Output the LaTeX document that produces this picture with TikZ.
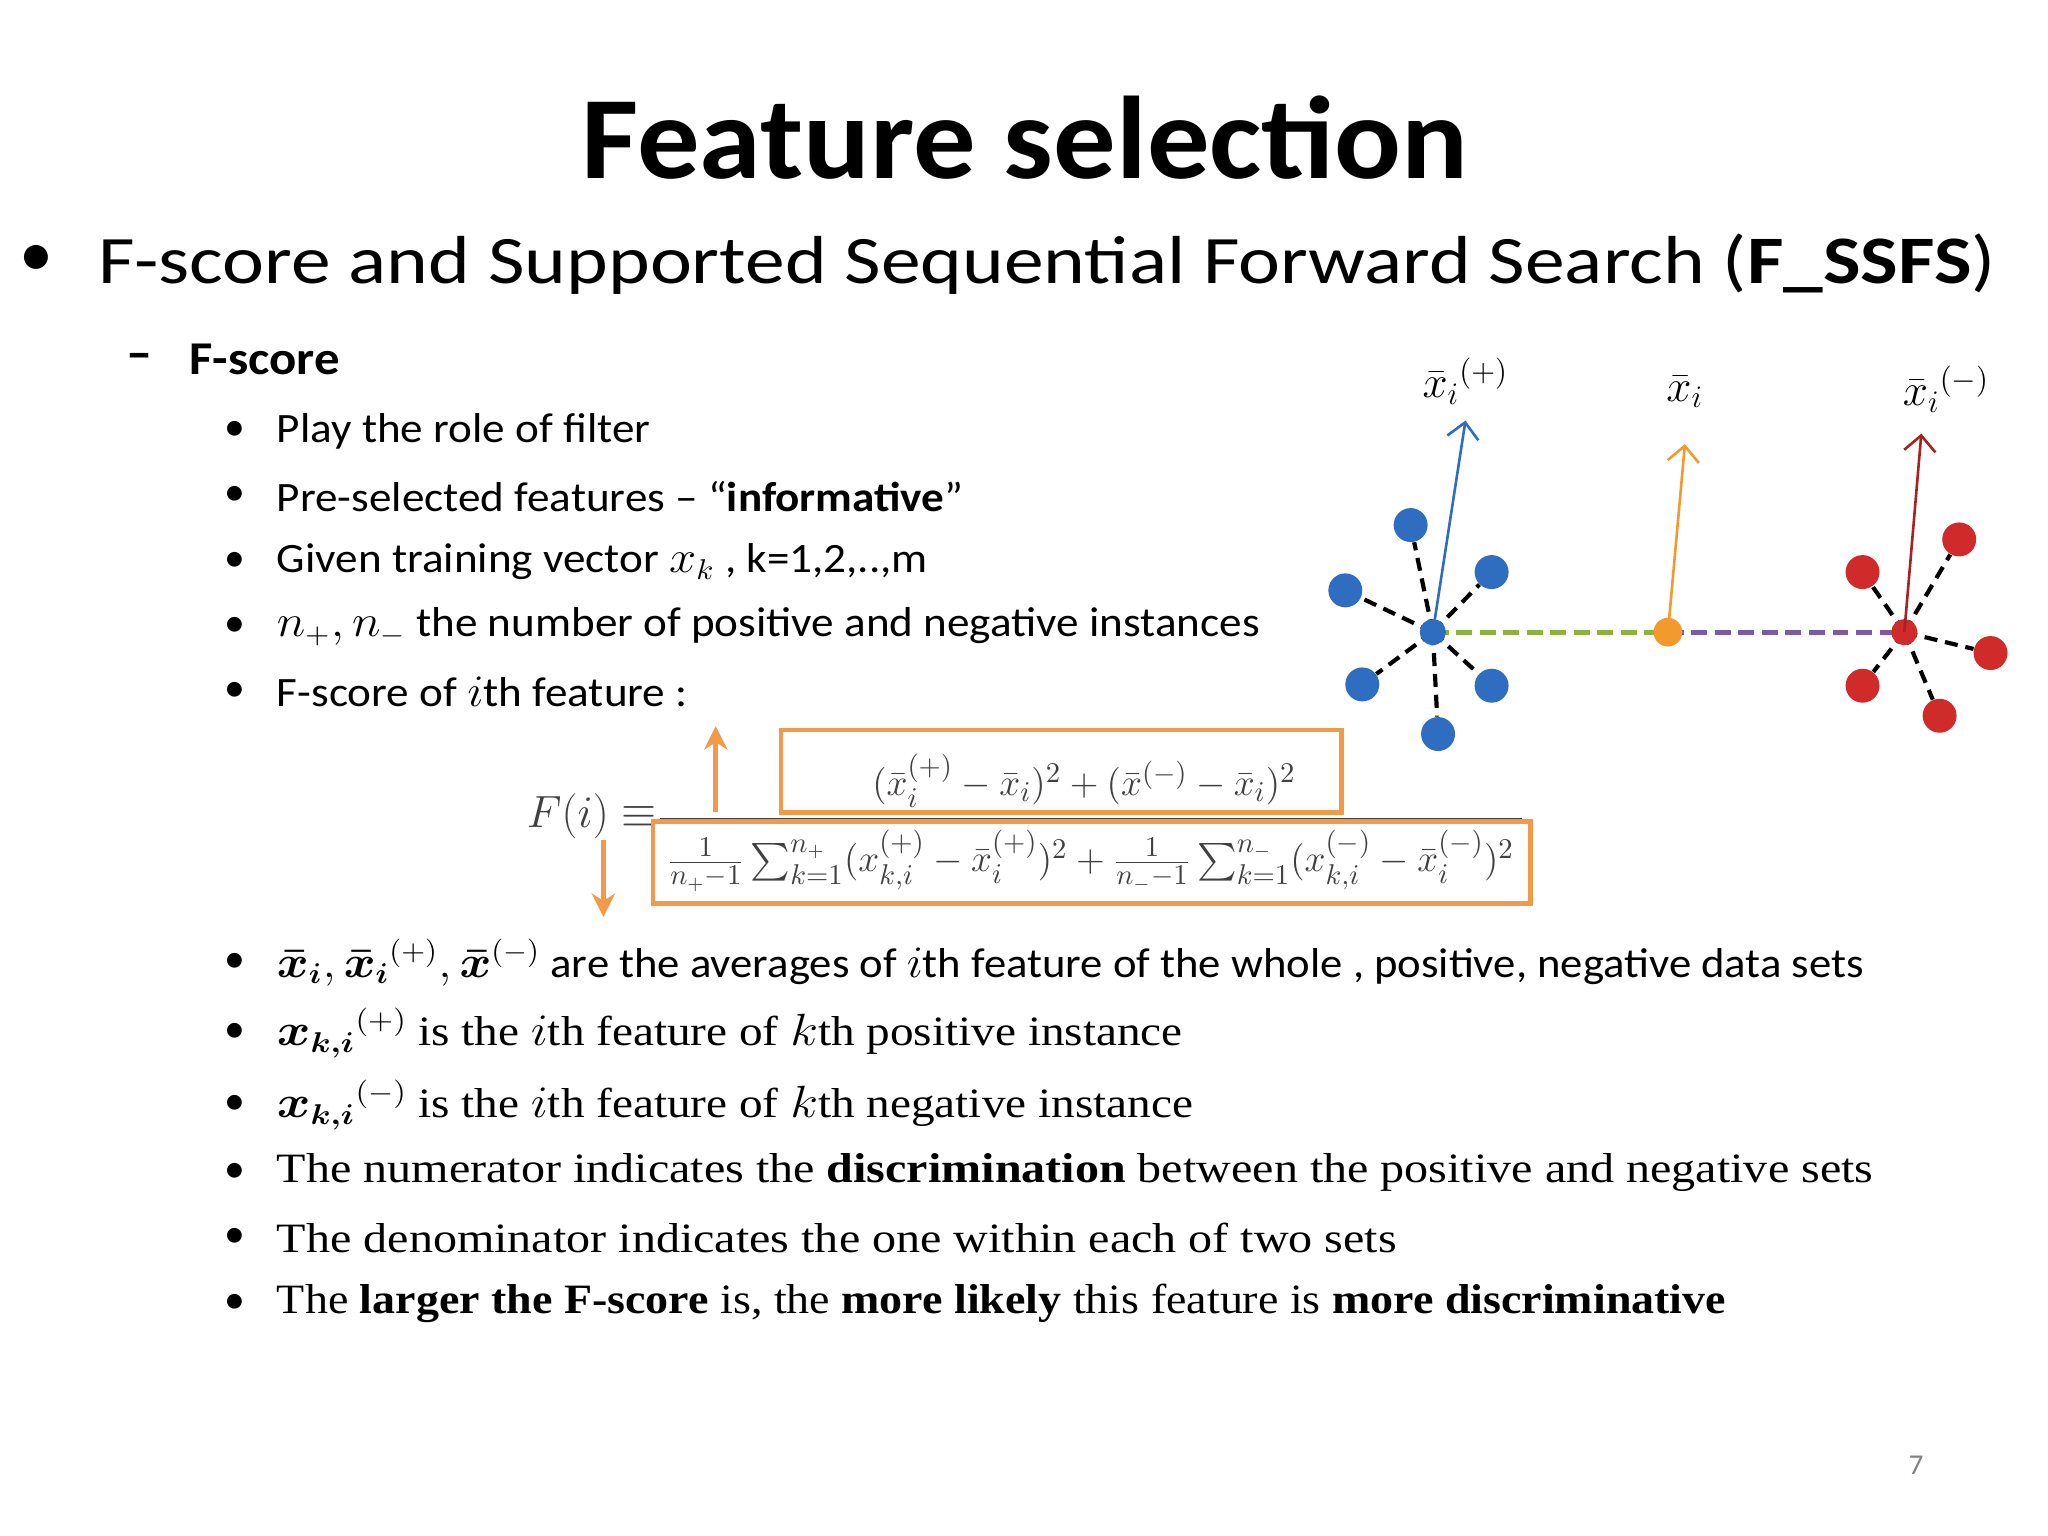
\documentclass[tikz,border=0pt]{standalone}
\usepackage{fontspec}
\usepackage{amsmath}
\usepackage{graphicx}
\setmainfont{Carlito}
\newfontfamily\serif{Liberation Serif}
\usetikzlibrary{arrows.meta}
\definecolor{bdot}{HTML}{2E6DBF}
\definecolor{rdot}{HTML}{D02A2A}
\definecolor{odot}{HTML}{F39A2E}
\definecolor{obox}{HTML}{F39A4A}
\definecolor{gline}{HTML}{8DB23E}
\definecolor{pline}{HTML}{7B5BA6}
\begin{document}
\begin{tikzpicture}[x=0.5pt,y=-0.5pt,
 sub/.style={anchor=west,font=\fontsize{16}{18}\selectfont},
 ser/.style={anchor=west,font=\serif\fontsize{16}{18}\selectfont},
 bul/.style={font=\fontsize{16}{18}\selectfont},
 dot/.style={circle,inner sep=0pt,minimum size=13pt},
 spoke/.style={dashed,line width=1.6pt,dash pattern=on 5pt off 3pt},
 ob/.style={draw=obox,line width=1.8pt}]
\useasboundingbox (0,0) rectangle (1568,1176);
\node[font=\bfseries\fontsize{45}{50}\selectfont] (title) at (785,105) {\scalebox{1.06}[1]{Feature selection}};
\node[font=\fontsize{26}{30}\selectfont] (b0) at (28,200) {•};
\node[anchor=west,font=\fontsize{26}{30}\selectfont] (t0) at (68,202) {\scalebox{1.17}[1]{F-score and Supported Sequential Forward Search (\textbf{F\_SSFS})}};
\node[font=\bfseries\fontsize{20}{20}\selectfont] (d1) at (107,277) {\textendash};
\node[anchor=west,font=\bfseries\fontsize{18}{20}\selectfont] (t1) at (138,275) {\scalebox{1.08}[1]{F-score}};
\foreach \y/\n in {330/a,380/b,430/c,480/d,530/e,737/f,791/g,846/h,898/i,948/j,998/k}{\node[bul] (bu\n) at (180,\y) {•};}
\node[sub] (sa) at (205,330) {\scalebox{1.08}[1]{Play the role of filter}};
\node[sub] (sb) at (205,380) {\scalebox{1.08}[1]{Pre-selected features -- “\textbf{informative}”}};
\node[sub] (sc) at (205,430) {\scalebox{1.08}[1]{Given training vector $x_k$ , k=1,2,..,m}};
\node[sub] (sd) at (205,480) {\scalebox{1.08}[1]{$n_{+},n_{-}$ the number of positive and negative instances}};
\node[sub] (se) at (205,530) {\scalebox{1.08}[1]{F-score of $i$th feature :}};
\node[sub] (sf) at (205,737) {\scalebox{1.07}[1]{$\boldsymbol{\bar x_i},\boldsymbol{\bar x_i}^{(+)},\boldsymbol{\bar x}^{(-)}$ are the averages of $i$th feature of the whole , positive, negative data sets}};
\node[sub] (sg) at (205,791) {\scalebox{1.13}[1]{$\boldsymbol{x_{k,i}}^{(+)}$ {\serif is the $i$th feature of $k$th positive instance}}};
\node[sub] (sh) at (205,846) {\scalebox{1.13}[1]{$\boldsymbol{x_{k,i}}^{(-)}$ {\serif is the $i$th feature of $k$th negative instance}}};
\node[ser] (si) at (205,898) {\scalebox{1.15}[1]{The numerator indicates the \textbf{discrimination} between the positive and negative sets}};
\node[ser] (sj) at (205,948) {\scalebox{1.15}[1]{The denominator indicates the one within each of two sets}};
\node[ser] (sk) at (205,998) {\scalebox{1.1}[1]{The \textbf{larger the F-score} is, the \textbf{more likely} this feature is \textbf{more discriminative}}};
% formula
\node[font=\fontsize{16}{18}\selectfont,text=black!75] (Fi) at (453,625) {$F(i)\equiv$};
\draw[black!75,line width=0.8pt] (505,627) -- (1165,627);
\node[font=\fontsize{15}{17}\selectfont,text=black!75] (num) at (830,598) {$(\bar x_i^{(+)}-\bar x_i)^2+(\bar x^{(-)}-\bar x_i)^2$};
\node[font=\fontsize{15}{17}\selectfont,text=black!75] (den) at (835,659) {$\frac{1}{n_+-1}\sum_{k=1}^{n_+}(x_{k,i}^{(+)}-\bar x_i^{(+)})^2+\frac{1}{n_--1}\sum_{k=1}^{n_-}(x_{k,i}^{(-)}-\bar x_i^{(-)})^2$};
\draw[ob] (598,559) rectangle (1027,622);
\draw[ob] (500,629) rectangle (1172,692);
\coordinate (ua) at (548,622); \coordinate (ub) at (548,556);
\coordinate (da) at (462,643); \coordinate (db) at (462,702);
\draw[obox,line width=2pt,-{Stealth[length=9pt,width=9pt]}] (ua) -- (ub);
\draw[obox,line width=2pt,-{Stealth[length=9pt,width=9pt]}] (da) -- (db);
% diagram
\coordinate (bc) at (1097,484); \coordinate (oc) at (1277,484); \coordinate (rc) at (1458,484);
\draw[gline,line width=2pt,dash pattern=on 6pt off 3pt] (bc) -- (oc);
\draw[pline,line width=2pt,dash pattern=on 6pt off 3pt] (oc) -- (rc);
\foreach \x/\y [count=\i] in {1080/402,1142/438,1030/452,1043/524,1142/525,1101/562}{
 \node[dot,fill=bdot] (bd\i) at (\x,\y) {};
 \draw[spoke] (bc) -- (bd\i);}
\foreach \x/\y [count=\i] in {1500/413,1426/438,1524/500,1426/525,1485/548}{
 \node[dot,fill=rdot] (rd\i) at (\x,\y) {};
 \draw[spoke] (rc) -- (rd\i);}
\node[dot,fill=bdot,minimum size=10pt] (bcn) at (bc) {};
\node[dot,fill=odot,minimum size=11pt] (ocn) at (oc) {};
\node[dot,fill=rdot,minimum size=10pt] (rcn) at (rc) {};
\coordinate (ba) at (1122,322); \coordinate (oa) at (1290,340); \coordinate (ra) at (1471,332);
\draw[bdot,line width=1pt,-{Straight Barb[length=6pt]}] (bc) -- (ba);
\draw[odot,line width=1pt,-{Straight Barb[length=6pt]}] (oc) -- (oa);
\draw[rdot!80!black,line width=1pt,-{Straight Barb[length=6pt]}] (rc) -- (ra);
\node[font=\fontsize{17}{19}\selectfont] (lb) at (1122,292) {$\bar x_i{}^{(+)}$};
\node[font=\fontsize{17}{19}\selectfont] (lo) at (1290,300) {$\bar x_i$};
\node[font=\fontsize{17}{19}\selectfont] (lr) at (1490,298) {$\bar x_i{}^{(-)}$};
\node[text=black!50,font=\fontsize{11}{13}\selectfont] (pg) at (1467,1122) {7};
\end{tikzpicture}
\end{document}
